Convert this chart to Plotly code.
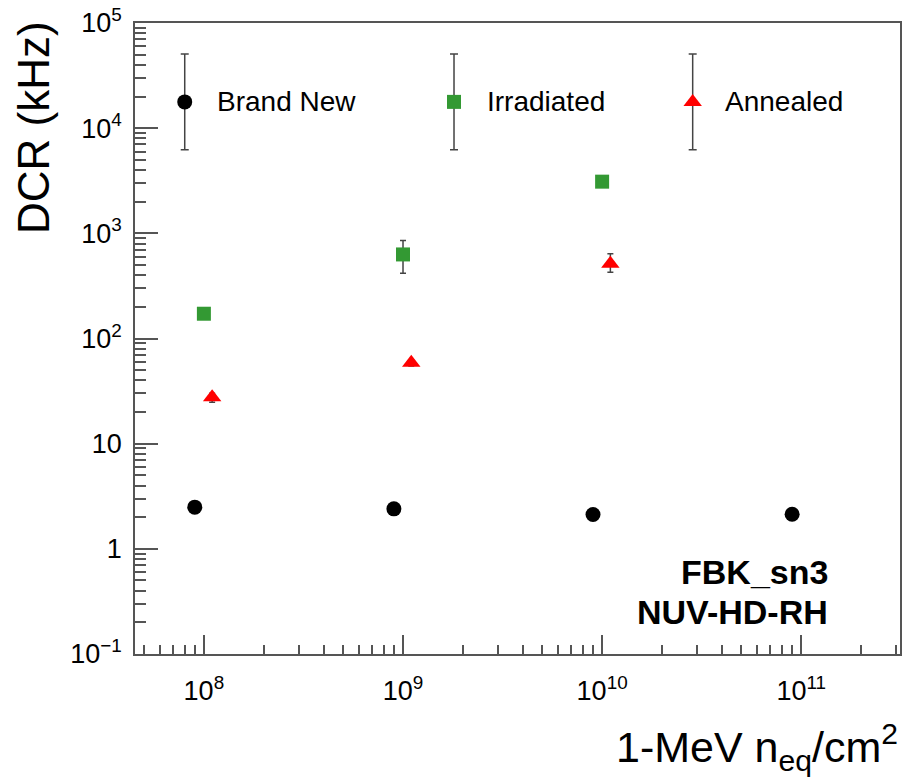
import plotly.graph_objects as go

# Fluence (1-MeV n_eq / cm^2) and dark count rate (kHz) per sensor state
fluence_new = [9e7, 9e8, 9e9, 9e10]
dcr_new = [2.49, 2.40, 2.12, 2.13]
err_new = [0.05, 0.05, 0.05, 0.05]

fluence_irr = [1e8, 1e9, 1e10]
dcr_irr = [172, 630, 3100]
err_irr_plus = [12, 225, 150]
err_irr_minus = [12, 212, 150]

fluence_ann = [1.1e8, 1.1e9, 1.1e10]
dcr_ann = [27.7, 58.9, 513]
err_ann_plus = [2.5, 4, 125]
err_ann_minus = [3, 4, 86]

# Axis tick labels
y_tickvals = [0.1, 1, 10, 100, 1e3, 1e4, 1e5]
y_ticktext = ["10<sup>\u22121</sup>", "1", "10", "10<sup>2</sup>", "10<sup>3</sup>",
              "10<sup>4</sup>", "10<sup>5</sup>"]
x_tickvals = [1e8, 1e9, 1e10, 1e11]
x_ticktext = ["10<sup>8</sup>", "10<sup>9</sup>", "10<sup>10</sup>", "10<sup>11</sup>"]

legend_names = ["Brand New", "Irradiated", "Annealed"]

X_RANGE = [7.654, 11.496]
Y_RANGE = [-1, 5]

# Minor tick positions (2..9 within each decade)
x_minor = [m * 10.0 ** d for d in range(7, 12) for m in range(2, 10)]
y_minor = [m * 10.0 ** d for d in range(-1, 5) for m in range(2, 10)]

FONT = "Liberation Sans, Arial, Helvetica, sans-serif"
GREEN = "rgb(51,153,51)"
RED = "rgb(255,0,0)"
AXC = "#555555"
ERRC = "#444444"

fig = go.Figure()

fig.add_trace(go.Scatter(
    x=fluence_new, y=dcr_new, mode="markers", name=legend_names[0],
    marker=dict(symbol="circle", size=15, color="black"),
    error_y=dict(type="data", array=err_new, color=ERRC, thickness=1.5, width=3),
))
fig.add_trace(go.Scatter(
    x=fluence_irr, y=dcr_irr, mode="markers", name=legend_names[1],
    marker=dict(symbol="square", size=14, color=GREEN),
    error_y=dict(type="data", symmetric=False, array=err_irr_plus,
                 arrayminus=err_irr_minus, color=ERRC, thickness=1.5, width=3),
))
fig.add_trace(go.Scatter(
    x=fluence_ann, y=dcr_ann, mode="markers", name=legend_names[2],
    marker=dict(symbol="triangle-up", size=16, color=RED),
    error_y=dict(type="data", symmetric=False, array=err_ann_plus,
                 arrayminus=err_ann_minus, color=ERRC, thickness=1.5, width=3),
))

# Legend row drawn on an overlay axis in fractional units, with error-bar glyphs
leg_x = [0.065, 0.417, 0.729]
leg_y = 0.875
leg_sym = ["circle", "square", "triangle-up"]
leg_col = ["black", GREEN, RED]
leg_size = [15, 14, 16]
for i in range(3):
    fig.add_trace(go.Scatter(
        x=[leg_x[i]], y=[leg_y], xaxis="x2", yaxis="y2", mode="markers",
        marker=dict(symbol=leg_sym[i], size=leg_size[i], color=leg_col[i]),
        error_y=dict(type="constant", value=0.076, color=ERRC, thickness=1.5, width=4),
        showlegend=False, hoverinfo="skip",
    ))
    fig.add_annotation(
        x=leg_x[i] + 0.040, y=leg_y, xref="x2", yref="y2", text=legend_names[i],
        showarrow=False, xanchor="left", yanchor="middle",
        font=dict(family=FONT, size=28, color="black"),
    )

# Empty trace so the minor-tick axes are drawn
fig.add_trace(go.Scatter(x=[], y=[], xaxis="x3", yaxis="y3", showlegend=False,
                         hoverinfo="skip"))

axis_common = dict(
    type="log", showgrid=False, zeroline=False, showline=True, mirror=True,
    linecolor=AXC, linewidth=1.5, ticks="inside", tickcolor=AXC, tickwidth=1.5,
    tickfont=dict(family=FONT, size=27, color="black"),
)

fig.update_layout(
    width=906, height=777, autosize=False,
    margin=dict(l=135, r=4, t=22, b=123),
    paper_bgcolor="white", plot_bgcolor="white",
    showlegend=False,
    xaxis=dict(
        **axis_common, range=X_RANGE,
        tickvals=x_tickvals, ticktext=x_ticktext, ticklen=19,
        ticklabelstandoff=12,
    ),
    yaxis=dict(
        **axis_common, range=Y_RANGE,
        tickvals=y_tickvals, ticktext=y_ticktext, ticklen=23,
        ticklabelstandoff=6,
    ),
    xaxis2=dict(overlaying="x", range=[0, 1], visible=False),
    yaxis2=dict(overlaying="y", range=[0, 1], visible=False),
    xaxis3=dict(overlaying="x", anchor="y", side="bottom", type="log", range=X_RANGE,
                tickvals=x_minor, ticks="inside", ticklen=9, tickwidth=1.5,
                tickcolor=AXC, showticklabels=False, showline=False,
                showgrid=False, zeroline=False),
    yaxis3=dict(overlaying="y", anchor="x", side="left", type="log", range=Y_RANGE,
                tickvals=y_minor, ticks="inside", ticklen=11, tickwidth=1.5,
                tickcolor=AXC, showticklabels=False, showline=False,
                showgrid=False, zeroline=False),
)

# Axis titles
fig.add_annotation(
    x=-0.133, y=0.834, xref="paper", yref="paper", text="DCR (kHz)", textangle=-90,
    showarrow=False, xanchor="center", yanchor="middle",
    font=dict(family=FONT, size=44, color="black"),
)
fig.add_annotation(
    x=1.0, y=0, xref="paper", yref="paper", yshift=-93, xanchor="right", yanchor="middle",
    text="1-MeV n<sub>eq</sub>/cm<sup>2</sup>", showarrow=False,
    font=dict(family=FONT, size=43, color="black"),
)

# Device label
fig.add_annotation(
    x=0.909, y=0.130, xref="paper", yref="paper", xanchor="right", yanchor="middle",
    text="<b>FBK_sn3</b>", showarrow=False,
    font=dict(family=FONT, size=34, color="black"),
)
fig.add_annotation(
    x=0.909, y=0.066, xref="paper", yref="paper", xanchor="right", yanchor="middle",
    text="<b>NUV-HD-RH</b>", showarrow=False,
    font=dict(family=FONT, size=34, color="black"),
)

fig.write_html("out.html")
